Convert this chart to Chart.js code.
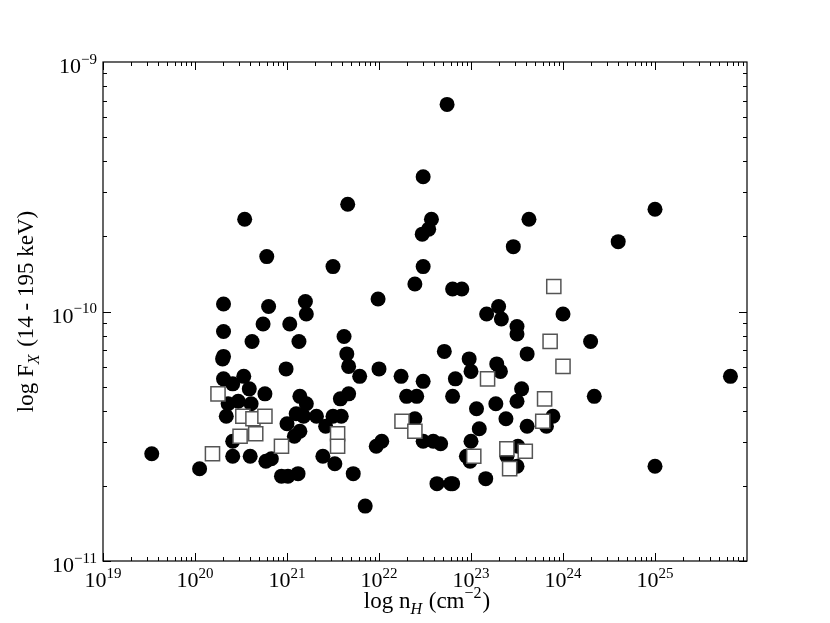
<!DOCTYPE html>
<html>
<head>
<meta charset="utf-8">
<script src="https://cdn.jsdelivr.net/npm/chart.js@4.4.1/dist/chart.umd.min.js"></script>
<style>
  html, body { margin: 0; padding: 0; background: #fff; }
  #wrap { width: 830px; height: 623px; }
</style>
</head>
<body>
<div id="wrap"><canvas id="chart" width="830" height="623"></canvas></div>
<script>
// log10 of n_H (cm^-2) and F_X (14-195 keV) for the filled circles
const circleLogNH = [
  19.53, 20.05, 20.30, 20.31, 20.53, 20.41, 20.59, 20.76, 20.99, 20.36,
  20.47, 20.61, 20.34, 20.41, 20.41, 20.60, 20.77, 20.83, 21.14, 21.21,
  21.10, 21.00, 21.14, 21.08, 21.32, 21.39, 20.94, 21.01, 21.12, 20.54,
  20.78, 20.31, 20.80, 21.20, 21.21, 20.74, 21.03, 20.31, 20.62, 21.13,
  20.31, 22.74, 22.48, 21.66, 22.57, 22.54, 22.47, 23.46, 21.50, 22.48,
  22.39, 22.80, 22.90, 21.99, 23.30, 23.17, 23.33, 23.50, 23.50, 21.62,
  21.65, 21.67, 22.00, 22.71, 22.98, 23.00, 23.28, 23.32, 21.79, 22.24,
  22.48, 22.83, 21.58, 21.67, 22.30, 22.41, 22.80, 23.06, 23.27, 23.50,
  21.50, 21.59, 21.42, 22.39, 22.48, 22.59, 22.67, 23.09, 23.38, 23.00,
  22.99, 22.95, 23.39, 23.51, 23.50, 21.52, 21.72, 21.97, 22.03, 21.85,
  22.63, 22.78, 23.16, 23.63, 24.60, 25.00, 24.00, 24.30, 23.61, 25.82,
  23.55, 24.34, 23.61, 23.89, 23.82, 25.00, 22.80, 21.18
];
const circleLogFX = [
  -10.57, -10.63, -10.19, -10.27, -10.26, -10.29, -10.31, -10.33, -10.23, -10.37,
  -10.36, -10.37, -10.42, -10.52, -10.58, -10.58, -10.60, -10.59, -10.34, -10.37,
  -10.41, -10.45, -10.48, -10.50, -10.42, -10.58, -10.66, -10.66, -10.65, -9.63,
  -9.78, -9.97, -9.98, -9.96, -10.01, -10.05, -10.05, -10.08, -10.12, -10.12,
  -10.18, -9.17, -9.46, -9.57, -9.63, -9.67, -9.69, -9.74, -9.82, -9.82,
  -9.89, -9.91, -9.91, -9.95, -9.98, -10.01, -10.03, -10.06, -10.09, -10.10,
  -10.17, -10.22, -10.23, -10.16, -10.19, -10.24, -10.21, -10.24, -10.26, -10.26,
  -10.28, -10.27, -10.35, -10.33, -10.34, -10.34, -10.34, -10.39, -10.37, -10.36,
  -10.42, -10.42, -10.46, -10.43, -10.52, -10.52, -10.53, -10.47, -10.43, -10.52,
  -10.60, -10.58, -10.58, -10.54, -10.62, -10.61, -10.65, -10.54, -10.52, -10.78,
  -10.69, -10.69, -10.67, -9.63, -9.72, -9.59, -10.01, -10.12, -10.17, -10.26,
  -10.31, -10.34, -10.46, -10.42, -10.46, -10.62, -10.69, -10.42
];
// open squares
const squareLogNH = [
  20.19, 20.25, 20.52, 20.63, 20.76, 20.49, 20.66, 20.94, 21.55, 21.55, 22.25,
  22.39, 23.03, 23.18, 23.39, 23.42, 23.59, 23.78, 23.80, 23.86, 24.00, 23.90
];
const squareLogFX = [
  -10.57, -10.33, -10.42, -10.43, -10.42, -10.50, -10.49, -10.54, -10.49, -10.54, -10.44,
  -10.48, -10.58, -10.27, -10.55, -10.63, -10.56, -10.44, -10.35, -10.12, -10.22, -9.90
];
const xTickExp = [19, 20, 21, 22, 23, 24, 25];
const yTickExp = [-11, -10, -9];

const toPoints = (lx, ly) => lx.map((v, i) => ({ x: Math.pow(10, v), y: Math.pow(10, ly[i]) }));

const SERIF = '"Liberation Serif", "DejaVu Serif", serif';

// draw a string made of parts, some raised or lowered (like mathtext)
function drawRich(ctx, parts, x, y, align, size) {
  const small = Math.round(size * 0.7);
  const setFont = p => {
    ctx.font = (p.it ? 'italic ' : '') + ((p.sup || p.sub) ? small : size) + 'px ' + SERIF;
  };
  const gap = p => (p.gap || 0);
  let w = 0;
  parts.forEach(p => { setFont(p); w += ctx.measureText(p.t).width + gap(p); });
  let cx = align === 'center' ? x - w / 2 : align === 'right' ? x - w : x;
  ctx.textAlign = 'left';
  ctx.textBaseline = 'alphabetic';
  parts.forEach(p => {
    setFont(p);
    const dy = p.sup ? -size * 0.42 : p.sub ? size * 0.25 : 0;
    ctx.fillText(p.t, cx, y + dy);
    cx += ctx.measureText(p.t).width + gap(p);
  });
}

const axesPlugin = {
  id: 'mplAxes',
  afterDraw(chart) {
    const { ctx, chartArea: a } = chart;
    const xs = chart.scales.x, ys = chart.scales.y;
    ctx.save();
    ctx.strokeStyle = '#000';
    ctx.fillStyle = '#000';
    ctx.lineWidth = 1.2;
    ctx.strokeRect(a.left, a.top, a.right - a.left, a.bottom - a.top);

    ctx.lineWidth = 1;
    ctx.beginPath();
    // x ticks, inward on bottom and top
    for (let e = 19; e < 26; e++) {
      for (let k = 1; k < 10; k++) {
        const px = Math.round(xs.getPixelForValue(k * Math.pow(10, e))) + 0.5;
        const len = k === 1 ? 8 : 4;
        ctx.moveTo(px, a.bottom); ctx.lineTo(px, a.bottom - len);
        ctx.moveTo(px, a.top); ctx.lineTo(px, a.top + len);
      }
    }
    // y ticks, inward on left and right
    for (let e = -11; e < -9; e++) {
      for (let k = 1; k < 10; k++) {
        const py = Math.round(ys.getPixelForValue(k * Math.pow(10, e))) + 0.5;
        const len = k === 1 ? 8 : 4;
        ctx.moveTo(a.left, py); ctx.lineTo(a.left + len, py);
        ctx.moveTo(a.right, py); ctx.lineTo(a.right - len, py);
      }
    }
    ctx.stroke();

    // tick labels
    xTickExp.forEach(e => {
      const px = xs.getPixelForValue(Math.pow(10, e));
      drawRich(ctx, [{ t: '10' }, { t: String(e), sup: true }], px, a.bottom + 26, 'center', 22);
    });
    yTickExp.forEach(e => {
      const py = ys.getPixelForValue(Math.pow(10, e));
      drawRich(ctx, [{ t: '10' }, { t: String(e).replace('-', '\u2212'), sup: true }], a.left - 6, py + 11, 'right', 22);
    });

    // axis titles
    drawRich(ctx, [{ t: 'log n' }, { t: 'H', sub: true, it: true, gap: 1 }, { t: ' (cm' }, { t: '\u22122', sup: true, gap: 1 }, { t: ')' }],
      (a.left + a.right) / 2 + 2, 608, 'center', 23);
    ctx.translate(33, (a.top + a.bottom) / 2);
    ctx.rotate(-Math.PI / 2);
    drawRich(ctx, [{ t: 'log F' }, { t: 'X', sub: true, it: true, gap: 2 }, { t: ' (14 - 195 keV)' }], 0, 0, 'center', 23);
    ctx.restore();
  }
};

new Chart(document.getElementById('chart').getContext('2d'), {
  type: 'scatter',
  data: {
    datasets: [
      {
        label: 'squares',
        data: toPoints(squareLogNH, squareLogFX),
        pointStyle: 'rect',
        pointRadius: 10,
        backgroundColor: '#fff',
        borderColor: '#555',
        borderWidth: 1.5
      },
      {
        label: 'circles',
        data: toPoints(circleLogNH, circleLogFX),
        pointStyle: 'circle',
        pointRadius: 7.5,
        backgroundColor: '#000',
        borderColor: '#000',
        borderWidth: 0
      }
    ]
  },
  options: {
    responsive: false,
    animation: false,
    layout: { padding: { left: 103, top: 62, right: 83, bottom: 62 } },
    scales: {
      x: { type: 'logarithmic', min: 1e19, max: 1e26, display: false },
      y: { type: 'logarithmic', min: 1e-11, max: 1e-9, display: false }
    },
    plugins: { legend: { display: false }, tooltip: { enabled: false } },
    events: []
  },
  plugins: [axesPlugin]
});
</script>
</body>
</html>
